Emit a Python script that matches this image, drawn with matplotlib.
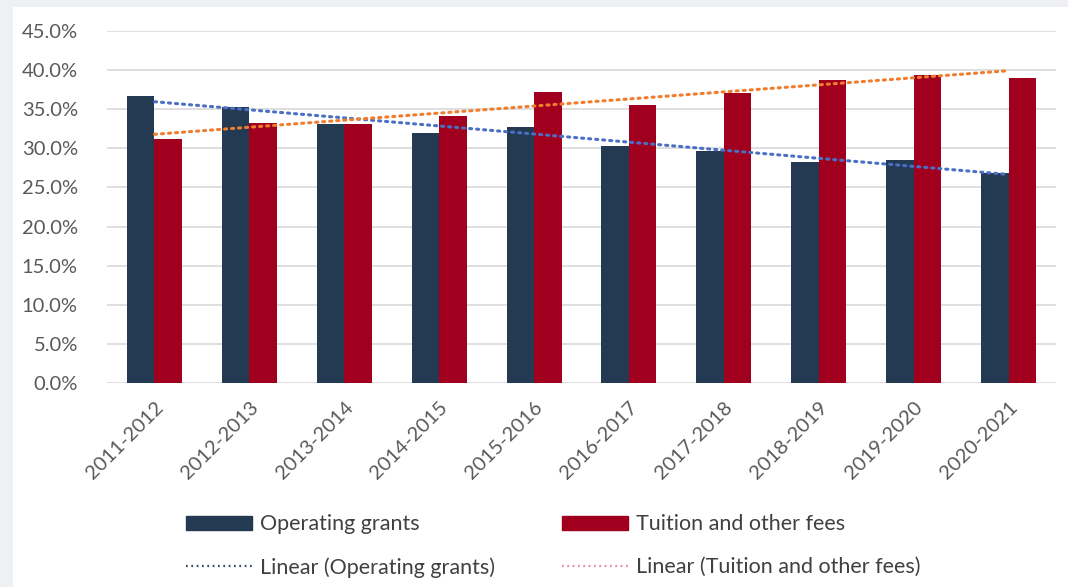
import numpy as np
import matplotlib
matplotlib.use("Agg")
import matplotlib.pyplot as plt
from matplotlib.patches import Rectangle, Patch
from matplotlib.lines import Line2D
from matplotlib.ticker import PercentFormatter

plt.rcParams['font.family'] = ['Lato', 'DejaVu Sans']

years = ["2011-2012", "2012-2013", "2013-2014", "2014-2015", "2015-2016",
         "2016-2017", "2017-2018", "2018-2019", "2019-2020", "2020-2021"]
operating_grants = [36.7, 35.3, 33.1, 31.9, 32.7, 30.3, 29.6, 28.2, 28.5, 26.8]
tuition_fees = [31.2, 33.2, 33.1, 34.1, 37.2, 35.6, 37.1, 38.7, 39.4, 39.0]
y_ticks = [0, 5, 10, 15, 20, 25, 30, 35, 40, 45]

grant_color = "#243a52"
fee_color = "#a0001e"
grant_trend_color = "#4a6fc4"
fee_trend_color = "#f07c2e"
text_color = "#595959"

fig = plt.figure(figsize=(10.68, 5.87), dpi=100, facecolor="#eef0f3")
panel = Rectangle((13 / 1068, 0), 1 - 13 / 1068, 1 - 7 / 587,
                  transform=fig.transFigure, facecolor="white",
                  edgecolor="none", zorder=-10)
fig.patches.append(panel)

ax = fig.add_axes([107 / 1068, 1 - 383 / 587, 949 / 1068, 352 / 587])
ax.set_facecolor("none")

x = np.arange(len(years))
w = 0.29
ax.bar(x - w / 2, operating_grants, width=w, color=grant_color, zorder=3)
ax.bar(x + w / 2, tuition_fees, width=w, color=fee_color, zorder=3)

# Least-squares trend lines through each series
for vals, col in ((operating_grants, grant_trend_color), (tuition_fees, fee_trend_color)):
    slope, icpt = np.polyfit(x, vals, 1)
    ax.plot(x, slope * x + icpt, color=col, lw=2.2, ls=(0, (0.7, 1.6)),
            dash_capstyle="round", zorder=4)

ax.set_xlim(-0.5, len(years) - 0.5)
ax.set_ylim(0, 45)
ax.set_yticks(y_ticks)
ax.yaxis.set_major_formatter(PercentFormatter(decimals=1))
ax.grid(axis="y", color="#d9d9d9", lw=1.2, zorder=0)
for s in ax.spines.values():
    s.set_visible(False)
ax.tick_params(axis="both", length=0, labelsize=14.5, colors=text_color)
ax.tick_params(axis="y", pad=21)
ax.set_xticks(x)
ax.set_xticklabels(years, rotation=45, ha="right", rotation_mode="anchor")
ax.tick_params(axis="x", pad=11)

handles = [
    Patch(color=grant_color),
    Line2D([], [], color="#3a4a66", lw=1.6, ls=(0, (0.8, 1.6))),
    Patch(color=fee_color),
    Line2D([], [], color="#e88a9a", lw=1.6, ls=(0, (0.8, 1.6))),
]
labels = ["Operating grants", "Linear (Operating grants)",
          "Tuition and other fees", "Linear (Tuition and other fees)"]
fig.legend(handles, labels, ncol=2, frameon=False, fontsize=15.5,
           labelcolor="#404040", loc="center", bbox_to_anchor=(553 / 1068, 1 - 546 / 587),
           handlelength=3.1, handleheight=0.6, columnspacing=3.1, labelspacing=1.05,
           handletextpad=0.35)

fig.savefig("out.png", dpi=100, facecolor=fig.get_facecolor())
